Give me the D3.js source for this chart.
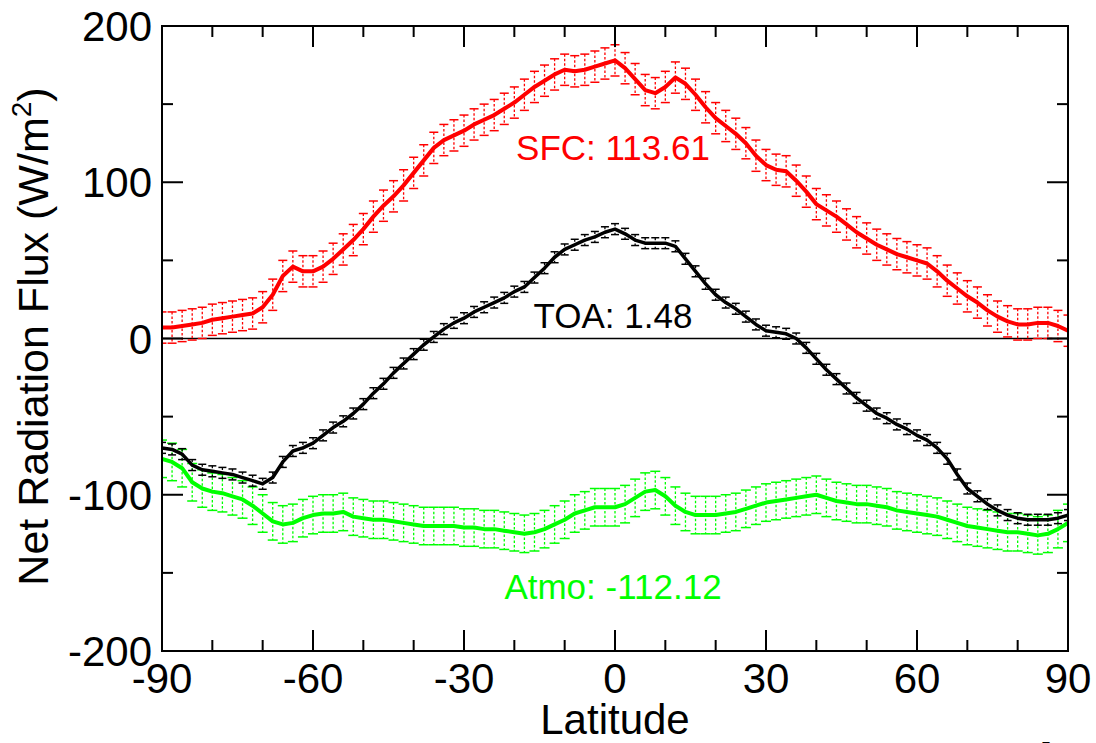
<!DOCTYPE html>
<html>
<head>
<meta charset="utf-8">
<script src="https://cdn.jsdelivr.net/npm/d3@7"></script>
<style>
  body { margin: 0; background: #fff; }
  svg { display: block; font-family: "Liberation Sans", Arial, sans-serif; }
</style>
</head>
<body>
<div id="chart"></div>
<script>
// latitude grid, every 2 degrees
const lats = d3.range(-90, 91, 2);

// net flux at the surface (W/m2)
const sfc = [7, 7, 8, 9, 10, 12, 13, 14, 15, 16, 20, 28, 40, 46, 43, 43, 46, 51, 57, 63,
  70, 78, 85, 91, 98, 106, 114, 122, 127, 130, 133, 137, 140, 143, 147, 151, 156, 161, 165, 169,
  172, 171, 172, 174, 176, 178, 173, 166, 159, 157, 161, 167, 163, 156, 148, 141, 136, 131, 125, 117,
  111, 108, 107, 101, 94, 86, 82, 78, 73, 68, 64, 60, 57, 54, 52, 50, 48, 43, 37, 32,
  27, 23, 18, 14, 11, 9, 9, 10, 10, 8, 5];

// net flux at top of atmosphere
const toa = [-70, -71, -74, -81, -84, -85, -86, -87, -89, -91, -93, -89, -79, -72, -70, -67, -62, -57, -53, -48,
  -42, -35, -29, -22, -16, -10, -4, 1, 6, 10, 13, 17, 20, 23, 26, 30, 33, 39, 45, 52,
  57, 60, 63, 65, 68, 70, 67, 63, 61, 61, 61, 59, 51, 43, 35, 28, 23, 19, 14, 9,
  5, 4, 3, 0, -6, -13, -20, -26, -32, -38, -43, -48, -51, -55, -58, -62, -65, -70, -77, -87,
  -96, -101, -106, -110, -113, -115, -116, -116, -116, -115, -113];

// atmospheric column
const atmo = [-77, -79, -83, -92, -96, -98, -99, -101, -103, -107, -112, -117, -119, -118, -115, -113, -112, -112, -111, -114,
  -115, -116, -116, -117, -118, -119, -120, -120, -120, -120, -121, -121, -122, -122, -123, -124, -125, -124, -122, -119,
  -116, -112, -110, -108, -108, -108, -106, -102, -98, -97, -101, -107, -111, -113, -113, -113, -112, -111, -109, -107,
  -105, -104, -103, -102, -101, -100, -102, -104, -105, -106, -106, -107, -108, -110, -111, -112, -113, -114, -116, -118,
  -120, -121, -122, -123, -124, -124, -125, -126, -125, -122, -118];

// error half widths
const sfcErr = 10;
const toaErr = 3.5;
const atmoErr = 12;

const xTicks = [-90, -60, -30, 0, 30, 60, 90];
const yTicks = [-200, -100, 0, 100, 200];

const labels = [
  { text: "SFC: 113.61", lat: 0, val: 114, color: "#ff0000" },
  { text: "TOA: 1.48", lat: 0, val: 7, color: "#000000" },
  { text: "Atmo: -112.12", lat: 0, val: -167, color: "#00ff00" }
];

const width = 1096, height = 743;
const margin = { top: 26, right: 28, bottom: 92, left: 162 };

const svg = d3.select("#chart").append("svg")
  .attr("width", width)
  .attr("height", height);

const x = d3.scaleLinear().domain([-90, 90]).range([margin.left, width - margin.right]);
const y = d3.scaleLinear().domain([-200, 200]).range([height - margin.bottom, margin.top]);

svg.append("clipPath").attr("id", "plot")
  .append("rect")
  .attr("x", x(-90)).attr("y", y(200))
  .attr("width", x(90) - x(-90)).attr("height", y(-200) - y(200));

const g = svg.append("g").attr("clip-path", "url(#plot)");

// zero line
g.append("line")
  .attr("x1", x(-90)).attr("x2", x(90))
  .attr("y1", y(0)).attr("y2", y(0))
  .attr("stroke", "#000").attr("stroke-width", 1.5);

function drawSeries(vals, err, color, lw, capW) {
  const pts = lats.map((d, i) => ({ lat: d, v: vals[i] }));
  const s = g.append("g");
  // dotted error bars
  s.selectAll("line.bar").data(pts).join("line")
    .attr("class", "bar")
    .attr("x1", d => x(d.lat)).attr("x2", d => x(d.lat))
    .attr("y1", d => y(d.v + err)).attr("y2", d => y(d.v - err))
    .attr("stroke", color).attr("stroke-width", 1.3)
    .attr("stroke-dasharray", "2.5,2");
  // caps
  [err, -err].forEach(e => {
    s.selectAll(null).data(pts).join("line")
      .attr("x1", d => x(d.lat) - capW / 2).attr("x2", d => x(d.lat) + capW / 2)
      .attr("y1", d => y(d.v + e)).attr("y2", d => y(d.v + e))
      .attr("stroke", color).attr("stroke-width", 1.5);
  });
  s.append("path")
    .datum(pts)
    .attr("fill", "none")
    .attr("stroke", color)
    .attr("stroke-width", lw)
    .attr("stroke-linejoin", "round")
    .attr("d", d3.line().x(d => x(d.lat)).y(d => y(d.v)));
}

drawSeries(atmo, atmoErr, "#00ff00", 4, 10);
drawSeries(toa, toaErr, "#000000", 3.5, 8);
drawSeries(sfc, sfcErr, "#ff0000", 4, 9);

// frame
svg.append("rect")
  .attr("x", x(-90)).attr("y", y(200))
  .attr("width", x(90) - x(-90)).attr("height", y(-200) - y(200))
  .attr("fill", "none").attr("stroke", "#000").attr("stroke-width", 2);

// ticks (inward, on all sides)
const ticks = svg.append("g").attr("stroke", "#000").attr("stroke-width", 2);
d3.range(-90, 91, 10).forEach(v => {
  const len = v % 30 === 0 ? 21 : 11;
  ticks.append("line").attr("x1", x(v)).attr("x2", x(v)).attr("y1", y(-200)).attr("y2", y(-200) - len);
  ticks.append("line").attr("x1", x(v)).attr("x2", x(v)).attr("y1", y(200)).attr("y2", y(200) + len);
});
d3.range(-200, 201, 50).forEach(v => {
  const len = v % 100 === 0 ? 21 : 11;
  ticks.append("line").attr("y1", y(v)).attr("y2", y(v)).attr("x1", x(-90)).attr("x2", x(-90) + len);
  ticks.append("line").attr("y1", y(v)).attr("y2", y(v)).attr("x1", x(90)).attr("x2", x(90) - len);
});

// tick labels
svg.append("g").selectAll("text").data(xTicks).join("text")
  .attr("x", d => x(d)).attr("y", y(-200) + 42)
  .attr("text-anchor", "middle")
  .attr("font-size", 42)
  .text(d => d);

svg.append("g").selectAll("text").data(yTicks).join("text")
  .attr("x", x(-90) - 10).attr("y", d => y(d) + 15)
  .attr("text-anchor", "end")
  .attr("font-size", 42)
  .text(d => d);

// axis titles
svg.append("text")
  .attr("x", x(0)).attr("y", 734)
  .attr("text-anchor", "middle")
  .attr("font-size", 42)
  .text("Latitude");

const yt = svg.append("text")
  .attr("transform", `translate(48,${(y(200) + y(-200)) / 2 - 2}) rotate(-90)`)
  .attr("text-anchor", "middle")
  .attr("font-size", 43);
yt.append("tspan").text("Net Radiation Flux (W/m");
yt.append("tspan").attr("font-size", 28).attr("dy", -17).text("2");
yt.append("tspan").attr("dy", 17).text(")");

// series labels
svg.append("g").selectAll("text").data(labels).join("text")
  .attr("x", d => x(d.lat) - 2).attr("y", d => y(d.val))
  .attr("text-anchor", "middle")
  .attr("font-size", 35)
  .attr("fill", d => d.color)
  .text(d => d.text);

// stray mark at the bottom edge of the original
svg.append("text")
  .attr("x", 1041).attr("y", 755)
  .attr("font-size", 18)
  .text("5");
</script>
</body>
</html>
